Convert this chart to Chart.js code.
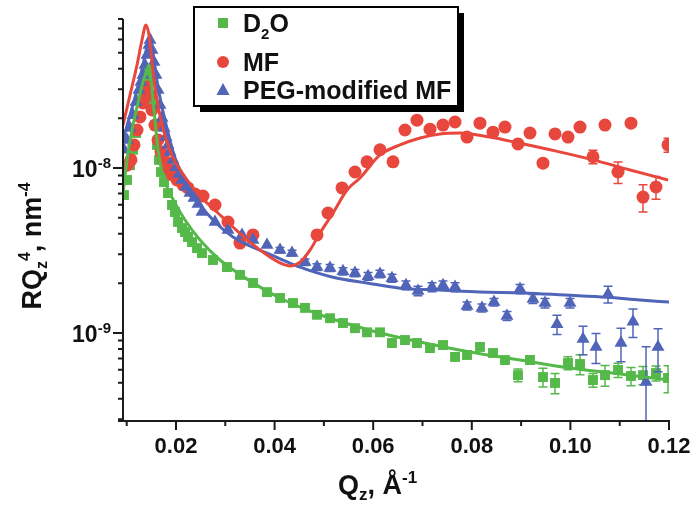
<!DOCTYPE html>
<html>
<head>
<meta charset="utf-8">
<script src="https://cdn.jsdelivr.net/npm/chart.js@4.4.1/dist/chart.umd.min.js"></script>
<style>
  html, body { margin: 0; padding: 0; background: #fff; }
</style>
</head>
<body>
<canvas id="reflChart" width="695" height="505"></canvas>
<script>
// Qz in 1/Å, R*Qz^4 in units of 1e-9 nm^-4, error = +/- in the same units
const d2oQ = [0.00945, 0.01006, 0.01067, 0.01128, 0.01189, 0.01249, 0.0131, 0.01371, 0.01412, 0.01452,
  0.01493, 0.01533, 0.01574, 0.01615, 0.01655, 0.01696, 0.01757, 0.01838, 0.01919, 0.0198,
  0.02041, 0.02122, 0.02183, 0.02243, 0.02325, 0.02426, 0.02527, 0.02751, 0.03034, 0.03298,
  0.03562, 0.03846, 0.0411, 0.04373, 0.04617, 0.0486, 0.05124, 0.05387, 0.05631, 0.05874,
  0.06138, 0.06381, 0.06645, 0.06888, 0.07152, 0.07416, 0.0766, 0.07903, 0.08166, 0.0843,
  0.08673, 0.08937, 0.0918, 0.09444, 0.09688, 0.09951, 0.10195, 0.10458, 0.10702, 0.10966,
  0.11229, 0.11473, 0.11736, 0.1198];
const d2oR = [6.86, 8.46, 10.4, 12.9, 16.3, 20.4, 25.8, 31.8, 36.6, 39.3,
  34.1, 25.8, 18.2, 13.8, 11.2, 9.46, 8.22, 7.05, 5.97, 5.41,
  4.71, 4.33, 4.09, 3.82, 3.56, 3.27, 3.05, 2.77, 2.51, 2.25,
  2.01, 1.77, 1.63, 1.52, 1.42, 1.29, 1.23, 1.15, 1.07, 1.01,
  1.01, 0.870, 0.907, 0.870, 0.811, 0.846, 0.716, 0.736, 0.823, 0.757,
  0.686, 0.556, 0.686, 0.541, 0.498, 0.658, 0.649, 0.519, 0.556, 0.597,
  0.549, 0.556, 0.572, 0.534];
const d2oErr = [0, 0, 0, 0, 0, 0, 0, 0, 0, 0,
  0, 0, 0, 0, 0, 0, 0, 0, 0, 0,
  0, 0, 0, 0, 0, 0, 0, 0, 0, 0,
  0, 0, 0, 0, 0, 0, 0, 0, 0, 0,
  0, 0, 0, 0, 0, 0, 0, 0, 0, 0,
  0.03, 0.05, 0.04, 0.07, 0.07, 0.06, 0.09, 0.05, 0.08, 0.06,
  0.07, 0.07, 0.06, 0.10];

const mfQ = [0.01006, 0.01087, 0.01148, 0.01209, 0.0127, 0.0133, 0.01371, 0.01412, 0.01473, 0.01513,
  0.01574, 0.01635, 0.01696, 0.01757, 0.01838, 0.01919, 0.0202, 0.02142, 0.02243, 0.02385,
  0.02548, 0.02791, 0.03055, 0.03298, 0.03562, 0.0486, 0.05083, 0.05367, 0.05631, 0.05874,
  0.06138, 0.06402, 0.06645, 0.06888, 0.07152, 0.07416, 0.0766, 0.07903, 0.08166, 0.0843,
  0.08673, 0.08937, 0.0918, 0.09444, 0.09688, 0.09951, 0.10195, 0.10458, 0.10702, 0.10966,
  0.11229, 0.11473, 0.11736, 0.1198];
const mfR = [10.4, 11.2, 13.8, 17.0, 20.4, 24.8, 28.5, 31.0, 27.7, 22.5,
  18.2, 14.8, 12.5, 11.2, 10.0, 9.1, 8.46, 7.89, 7.57, 6.95,
  6.77, 5.97, 4.71, 3.51, 3.93, 3.93, 5.34, 7.57, 9.46, 10.9,
  12.9, 10.9, 17.0, 19.5, 17.2, 18.2, 19.0, 15.4, 18.7, 16.5,
  17.7, 14.0, 16.3, 10.7, 16.1, 15.4, 17.7, 11.7, 18.2, 9.46,
  18.7, 6.67, 7.67, 13.8];
const mfErr = [0, 0, 0, 0, 0, 0, 0, 0, 0, 0,
  0, 0, 0, 0, 0, 0, 0, 0, 0, 0,
  0, 0, 0, 0, 0, 0, 0, 0, 0, 0,
  0, 0, 0, 0, 0, 0, 0, 0, 0, 0,
  0, 0, 0, 0.5, 0.4, 0.4, 0.5, 1.1, 0.6, 1.4,
  0.6, 1.25, 1.2, 1.35];

const pegQ = [0.00945, 0.01006, 0.01067, 0.01128, 0.01189, 0.01249, 0.0129, 0.0133, 0.01371, 0.01412,
  0.01452, 0.01473, 0.01513, 0.01554, 0.01594, 0.01635, 0.01675, 0.01716, 0.01757, 0.01797,
  0.01838, 0.01878, 0.01939, 0.02, 0.02061, 0.02122, 0.02203, 0.02284, 0.02365, 0.02446,
  0.02527, 0.02791, 0.03055, 0.03339, 0.03562, 0.03846, 0.0411, 0.04353, 0.04617, 0.0486,
  0.05124, 0.05387, 0.05631, 0.05895, 0.06138, 0.06381, 0.06665, 0.06909, 0.07193, 0.07416,
  0.0766, 0.07903, 0.08207, 0.0845, 0.08714, 0.08978, 0.09241, 0.09485, 0.09728, 0.09992,
  0.10256, 0.10519, 0.10763, 0.11026, 0.1127, 0.11534, 0.11777];
const pegR = [12.9, 14.8, 17.5, 20.9, 25.1, 29.7, 33.2, 36.6, 42.1, 48.4,
  55.6, 59.7, 51.9, 43.9, 36.6, 29.7, 24.1, 20.1, 17.5, 15.4,
  13.8, 12.5, 11.2, 10.1, 9.2, 8.46, 7.67, 7.05, 6.58, 6.05,
  5.41, 4.71, 4.21, 3.93, 3.66, 3.41, 3.18, 3.05, 2.69, 2.51,
  2.48, 2.37, 2.31, 2.21, 2.28, 2.15, 1.95, 1.80, 1.90, 1.95,
  1.90, 1.46, 1.42, 1.54, 1.27, 1.85, 1.61, 1.52, 1.13, 1.52,
  0.919, 0.823, 1.72, 0.870, 1.17, 0.505, 0.823];
const pegErr = [0, 0, 0, 0, 0, 0, 0, 0, 0, 0,
  0, 0, 0, 0, 0, 0, 0, 0, 0, 0,
  0, 0, 0, 0, 0, 0, 0, 0, 0, 0,
  0, 0, 0, 0, 0, 0, 0.12, 0.12, 0.12, 0.12,
  0.12, 0.12, 0.12, 0.12, 0.12, 0.12, 0.12, 0.12, 0.12, 0.12,
  0.12, 0.08, 0.08, 0.08, 0.08, 0.12, 0.10, 0.10, 0.15, 0.10,
  0.18, 0.17, 0.20, 0.20, 0.23, 0.32, 0.24];

// model fits
const d2oFitQ = [0.00925, 0.01026, 0.01128, 0.01229, 0.0133, 0.01412, 0.01452, 0.01493, 0.01533, 0.01574,
  0.01635, 0.01716, 0.01817, 0.0198, 0.02183, 0.02487, 0.02892, 0.035, 0.0411, 0.0492,
  0.05935, 0.0695, 0.07964, 0.08978, 0.09992, 0.11006, 0.12];
const d2oFitR = [7.05, 12.3, 18.2, 24.8, 33.2, 39.3, 42.1, 35.1, 25.8, 19.5,
  12.9, 9.46, 7.67, 6.14, 4.84, 3.66, 2.77, 2.07, 1.63, 1.29,
  1.04, 0.882, 0.767, 0.686, 0.614, 0.565, 0.519];

const mfFitQ = [0.00925, 0.01067, 0.01209, 0.0131, 0.01391, 0.01452, 0.01513, 0.01574, 0.01696, 0.01899,
  0.02183, 0.02507, 0.02852, 0.03156, 0.035, 0.03846, 0.0411, 0.04312, 0.04515, 0.04718,
  0.0492, 0.05185, 0.05469, 0.05732, 0.06138, 0.06544, 0.0695, 0.07355, 0.0776, 0.08369,
  0.08937, 0.0969, 0.10458, 0.11209, 0.1198];
const mfFitR = [18.2, 27.7, 42.1, 59.7, 73.6, 64.0, 43.9, 31.0, 19.5, 12.3,
  8.82, 6.67, 5.34, 4.39, 3.56, 2.97, 2.66, 2.55, 2.69, 3.18,
  4.04, 5.34, 7.36, 8.70, 12.0, 13.8, 15.2, 16.1, 16.3, 15.4,
  14.2, 12.7, 11.2, 9.73, 8.46];

const pegFitQ = [0.00925, 0.01067, 0.01209, 0.0133, 0.01432, 0.01473, 0.01533, 0.01635, 0.01777, 0.0198,
  0.02243, 0.02487, 0.02791, 0.03156, 0.035, 0.03846, 0.0417, 0.04515, 0.05185, 0.05874,
  0.06544, 0.07355, 0.08166, 0.0904, 0.0989, 0.10742, 0.1141, 0.12];
const pegFitR = [14.8, 20.9, 29.7, 42.1, 58.0, 64.0, 49.8, 31.0, 19.5, 11.5,
  7.9, 6.0, 4.71, 3.82, 3.37, 3.05, 2.77, 2.51, 2.18, 2.01,
  1.87, 1.82, 1.77, 1.75, 1.70, 1.65, 1.585, 1.54];

const xTickLabels = ['0.02', '0.04', '0.06', '0.08', '0.10', '0.12'];
const yTickExponents = [-9, -8];

const UNIT = 1e-9;
const GREEN = '#55b94a';
const RED = '#e8473d';
const BLUE = '#5064b8';
const FONT = '"Liberation Sans", Arial, sans-serif';

const toPoints = (qs, rs) => qs.map((q, i) => ({ x: q, y: rs[i] * UNIT }));

function markerSet(label, qs, rs, errs, color, style, radius, order) {
  return {
    label,
    data: toPoints(qs, rs),
    errors: errs.map(e => e * UNIT),
    showLine: false,
    pointStyle: style,
    pointRadius: radius,
    pointBackgroundColor: color,
    pointBorderWidth: 0,
    backgroundColor: color,
    order
  };
}

function fitLine(label, qs, rs, color) {
  return {
    label,
    data: toPoints(qs, rs),
    showLine: true,
    borderColor: color,
    borderWidth: 3,
    pointRadius: 0,
    cubicInterpolationMode: 'monotone',
    order: 0
  };
}

// text made of several runs (sub/superscripts), returns the end x
function drawRuns(ctx, runs, x, y) {
  runs.forEach(r => {
    ctx.font = `bold ${r.size}px ${FONT}`;
    ctx.fillText(r.text, x, y + (r.dy || 0));
    x += ctx.measureText(r.text).width;
  });
  return x;
}

function runsWidth(ctx, runs) {
  return runs.reduce((w, r) => {
    ctx.font = `bold ${r.size}px ${FONT}`;
    return w + ctx.measureText(r.text).width;
  }, 0);
}

const errorBars = {
  id: 'errorBars',
  beforeDatasetDraw(chart, args) {
    const ds = chart.data.datasets[args.index];
    if (!ds.errors) return;
    const { ctx, chartArea: a, scales: { y } } = chart;
    ctx.save();
    ctx.beginPath();
    ctx.rect(a.left, a.top, a.right - a.left, a.bottom - a.top);
    ctx.clip();
    ctx.strokeStyle = ds.backgroundColor;
    ctx.lineWidth = 1.5;
    args.meta.data.forEach((pt, i) => {
      const e = ds.errors[i];
      if (!e) return;
      const v = ds.data[i].y;
      const top = y.getPixelForValue(v + e);
      const bot = v - e > 0 ? y.getPixelForValue(v - e) : a.bottom + 10;
      ctx.beginPath();
      ctx.moveTo(pt.x, top); ctx.lineTo(pt.x, bot);
      ctx.moveTo(pt.x - 4.5, top); ctx.lineTo(pt.x + 4.5, top);
      ctx.moveTo(pt.x - 4.5, bot); ctx.lineTo(pt.x + 4.5, bot);
      ctx.stroke();
    });
    ctx.restore();
  }
};

function drawMarker(ctx, style, x, y, color) {
  ctx.fillStyle = color;
  ctx.beginPath();
  if (style === 'rect') {
    ctx.rect(x - 5, y - 5, 10, 10);
  } else if (style === 'circle') {
    ctx.arc(x, y, 6, 0, Math.PI * 2);
  } else {
    ctx.moveTo(x, y - 7);
    ctx.lineTo(x + 6.5, y + 5);
    ctx.lineTo(x - 6.5, y + 5);
    ctx.closePath();
  }
  ctx.fill();
}

const frame = {
  id: 'frame',
  afterDraw(chart) {
    const { ctx, chartArea: a, scales: { x, y } } = chart;
    ctx.save();
    ctx.strokeStyle = '#1b1b1b';
    ctx.fillStyle = '#111';
    ctx.lineWidth = 2;

    // axis lines
    ctx.beginPath();
    ctx.moveTo(a.left, a.top);
    ctx.lineTo(a.left, a.bottom);
    ctx.moveTo(a.left - 5, a.bottom);
    ctx.lineTo(a.right + 1, a.bottom);
    ctx.stroke();

    // x ticks every 0.01, labelled every 0.02
    ctx.beginPath();
    for (let i = 1; i <= 12; i++) {
      const px = x.getPixelForValue(i / 100);
      ctx.moveTo(px, a.bottom);
      ctx.lineTo(px, a.bottom + (i % 2 === 0 ? 9 : 5));
    }
    // y ticks at 1..9 x 10^n
    for (let e = -10; e <= -8; e++) {
      for (let m = 1; m <= 9; m++) {
        const v = m * Math.pow(10, e);
        if (v < y.min || v > y.max) continue;
        const py = y.getPixelForValue(v);
        ctx.moveTo(a.left, py);
        ctx.lineTo(a.left - (m === 1 ? 10 : 5), py);
      }
    }
    ctx.stroke();

    ctx.textBaseline = 'alphabetic';
    ctx.textAlign = 'center';
    ctx.font = `bold 22px ${FONT}`;
    xTickLabels.forEach(t => {
      ctx.fillText(t, x.getPixelForValue(parseFloat(t)), a.bottom + 32);
    });

    ctx.textAlign = 'left';
    yTickExponents.forEach(e => {
      const runs = [{ text: '10', size: 23 }, { text: String(e), size: 15, dy: -9 }];
      const py = y.getPixelForValue(Math.pow(10, e));
      drawRuns(ctx, runs, a.left - 12 - runsWidth(ctx, runs), py + 9);
    });

    // axis titles
    drawRuns(ctx, [
      { text: 'Q', size: 27 }, { text: 'z', size: 17, dy: 6 },
      { text: ', Å', size: 27 }, { text: '-1', size: 17, dy: -11 }
    ], 338, 494);

    const yTitle = [
      { text: 'RQ', size: 27 }, { text: 'z', size: 16, dy: 6 }, { text: '4', size: 16, dy: -11 },
      { text: ', nm', size: 27 }, { text: '-4', size: 16, dy: -11 }
    ];
    ctx.save();
    ctx.translate(41, 246);
    ctx.rotate(-Math.PI / 2);
    drawRuns(ctx, yTitle, -runsWidth(ctx, yTitle) / 2, 0);
    ctx.restore();

    // legend box with drop shadow
    const lx = 194, ly = 7, lw = 264, lh = 99;
    ctx.fillStyle = '#000';
    ctx.fillRect(lx + 6, ly + 6, lw, lh);
    ctx.fillStyle = '#fff';
    ctx.fillRect(lx, ly, lw, lh);
    ctx.strokeStyle = '#000';
    ctx.lineWidth = 2;
    ctx.strokeRect(lx, ly, lw, lh);

    const entries = [
      { style: 'rect', color: GREEN, cy: 23, runs: [{ text: 'D', size: 25 }, { text: '2', size: 15, dy: 7 }, { text: 'O', size: 25 }] },
      { style: 'circle', color: RED, cy: 62, runs: [{ text: 'MF', size: 25 }] },
      { style: 'triangle', color: BLUE, cy: 90, runs: [{ text: 'PEG-modified MF', size: 25 }] }
    ];
    entries.forEach(en => {
      drawMarker(ctx, en.style, 223, en.cy, en.color);
      ctx.fillStyle = '#111';
      drawRuns(ctx, en.runs, 243, en.cy + 9);
    });
    ctx.restore();
  }
};

new Chart(document.getElementById('reflChart'), {
  type: 'scatter',
  data: {
    datasets: [
      fitLine('MF fit', mfFitQ, mfFitR, RED),
      fitLine('PEG-modified MF fit', pegFitQ, pegFitR, BLUE),
      fitLine('D2O fit', d2oFitQ, d2oFitR, GREEN),
      markerSet('PEG-modified MF', pegQ, pegR, pegErr, BLUE, 'triangle', 7.5, 1),
      markerSet('MF', mfQ, mfR, mfErr, RED, 'circle', 6.5, 2),
      markerSet('D2O', d2oQ, d2oR, d2oErr, GREEN, 'rect', 7, 3)
    ]
  },
  options: {
    responsive: false,
    animation: false,
    layout: { padding: { left: 123, right: 26, top: 19, bottom: 84 } },
    plugins: {
      legend: { display: false },
      tooltip: { enabled: false }
    },
    scales: {
      x: { type: 'linear', min: 0.00925, max: 0.12, display: false },
      y: { type: 'logarithmic', min: 2.93e-10, max: 8e-8, display: false }
    }
  },
  plugins: [errorBars, frame]
});
</script>
</body>
</html>
